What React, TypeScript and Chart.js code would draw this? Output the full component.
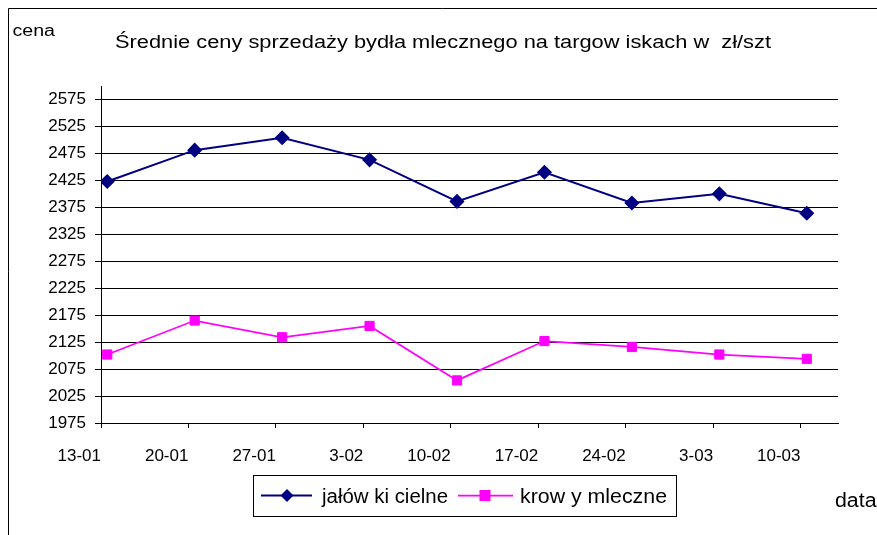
import React, { useEffect, useRef } from "react";
import { Chart, registerables } from "chart.js";

Chart.register(...registerables);

// ---- data ----
const categories = ["13-01", "20-01", "27-01", "3-02", "10-02", "17-02", "24-02", "3-03", "10-03"];
const dayOfPeriod = [0, 7, 14, 21, 28, 35, 42, 49, 56];
const jalowkiCielne = [2423, 2481, 2504, 2463, 2386, 2440, 2383, 2400, 2364];
const krowyMleczne = [2102, 2165, 2134, 2155, 2054, 2127, 2116, 2102, 2094];
const yTickValues = [1975, 2025, 2075, 2125, 2175, 2225, 2275, 2325, 2375, 2425, 2475, 2525, 2575];
const yTickLabels = ["1975", "2025", "2075", "2125", "2175", "2225", "2275", "2325", "2375", "2425", "2475", "2525", "2575"];
const seriesNames = ["jałów ki cielne", "krow y mleczne"];
const titleText = "Średnie ceny sprzedaży bydła mlecznego na targow iskach w  zł/szt";
const yAxisName = "cena";
const xAxisName = "data";

const FONT = '"Liberation Sans", Arial, Helvetica, sans-serif';
const BLUE = "#000080";
const PINK = "#FF00FF";

function fitText(ctx: CanvasRenderingContext2D, text: string, x: number, y: number, size: number, width: number) {
  ctx.save();
  ctx.font = `${size}px ${FONT}`;
  ctx.textAlign = "left";
  ctx.textBaseline = "alphabetic";
  ctx.fillStyle = "#000";
  const w = ctx.measureText(text).width;
  ctx.translate(x, y);
  ctx.scale(width / w, 1);
  ctx.fillText(text, 0, 0);
  ctx.restore();
}

const decor = {
  id: "decor",
  afterDraw(chart: any) {
    const ctx: CanvasRenderingContext2D = chart.ctx;
    ctx.save();
    // outer frame
    ctx.strokeStyle = "#000";
    ctx.lineWidth = 1;
    ctx.beginPath();
    ctx.moveTo(8.5, 535);
    ctx.lineTo(8.5, 8.5);
    ctx.lineTo(877, 8.5);
    ctx.stroke();

    fitText(ctx, titleText, 115, 47.5, 17.5, 656);
    fitText(ctx, yAxisName, 12.5, 35.5, 16, 42.5);
    fitText(ctx, xAxisName, 835, 506.5, 20, 41.5);

    // legend
    ctx.strokeStyle = "#000";
    ctx.lineWidth = 1;
    ctx.strokeRect(253.5, 475.5, 423, 41);
    const ly = 495.5;
    ctx.strokeStyle = BLUE;
    ctx.lineWidth = 2;
    ctx.beginPath();
    ctx.moveTo(261, ly);
    ctx.lineTo(312, ly);
    ctx.stroke();
    ctx.fillStyle = BLUE;
    ctx.beginPath();
    const r = 6.5;
    ctx.moveTo(287 - r, ly);
    ctx.lineTo(287, ly - r);
    ctx.lineTo(287 + r, ly);
    ctx.lineTo(287, ly + r);
    ctx.closePath();
    ctx.fill();
    fitText(ctx, seriesNames[0], 322, 502.5, 20, 126);

    ctx.strokeStyle = PINK;
    ctx.lineWidth = 1.75;
    ctx.beginPath();
    ctx.moveTo(458, ly);
    ctx.lineTo(513, ly);
    ctx.stroke();
    ctx.fillStyle = PINK;
    ctx.fillRect(485 - 5.5, ly - 5.5, 11, 11);
    fitText(ctx, seriesNames[1], 520, 502.5, 20, 147);
    ctx.restore();
  },
};

export default function App() {
  const ref = useRef<HTMLCanvasElement | null>(null);
  useEffect(() => {
    if (!ref.current) return;
    const chart = new Chart(ref.current, {
      type: "line",
      data: {
        datasets: [
          {
            label: seriesNames[0],
            data: dayOfPeriod.map((d, i) => ({ x: d + 0.5, y: jalowkiCielne[i] })),
            borderColor: BLUE,
            backgroundColor: BLUE,
            borderWidth: 2,
            pointStyle: "rectRot",
            pointRadius: 6.5,
            pointBorderWidth: 1.5,
            pointBackgroundColor: BLUE,
            pointBorderColor: BLUE,
            tension: 0,
          },
          {
            label: seriesNames[1],
            data: dayOfPeriod.map((d, i) => ({ x: d + 0.5, y: krowyMleczne[i] })),
            borderColor: PINK,
            backgroundColor: PINK,
            borderWidth: 1.75,
            pointStyle: "rect",
            pointRadius: 6.5,
            pointBorderWidth: 1,
            pointBackgroundColor: PINK,
            pointBorderColor: PINK,
            tension: 0,
          },
        ],
      },
      options: {
        animation: false,
        responsive: false,
        maintainAspectRatio: false,
        layout: { padding: { left: 0, top: 86, right: 39, bottom: 72 } },
        plugins: {
          legend: { display: false },
          title: { display: false },
          tooltip: { enabled: false },
        },
        scales: {
          x: {
            type: "linear",
            min: 0,
            max: 59,
            afterFit: (s: any) => {
              s.height = 40;
            },
            afterBuildTicks: (s: any) => {
              s.ticks = dayOfPeriod.map((v) => ({ value: v }));
            },
            ticks: {
              callback: (_v: any, i: number) => categories[i],
              align: "end",
              padding: 18,
              color: "#000",
              font: { family: FONT, size: 17 },
              maxRotation: 0,
              minRotation: 0,
              autoSkip: false,
            },
            grid: { drawOnChartArea: false, drawTicks: true, tickLength: 5, color: "#000" },
            border: { display: true, color: "#000", width: 1 },
          },
          y: {
            type: "linear",
            min: 1975,
            max: 2600,
            afterFit: (s: any) => {
              s.width = 101;
            },
            afterBuildTicks: (s: any) => {
              s.ticks = yTickValues.map((v) => ({ value: v }));
            },
            ticks: {
              callback: (_v: any, i: number) => yTickLabels[i],
              padding: 9,
              color: "#000",
              font: { family: FONT, size: 17 },
              autoSkip: false,
            },
            grid: { color: "#000", tickLength: 6, lineWidth: 1 },
            border: { display: true, color: "#000", width: 1 },
          },
        },
      } as any,
      plugins: [decor],
    });
    return () => chart.destroy();
  }, []);
  return (
    <div style={{ position: "fixed", left: 0, top: 0, width: 877, height: 535, background: "#fff" }}>
      <canvas ref={ref} width={877} height={535} style={{ display: "block", width: 877, height: 535 }} />
    </div>
  );
}
